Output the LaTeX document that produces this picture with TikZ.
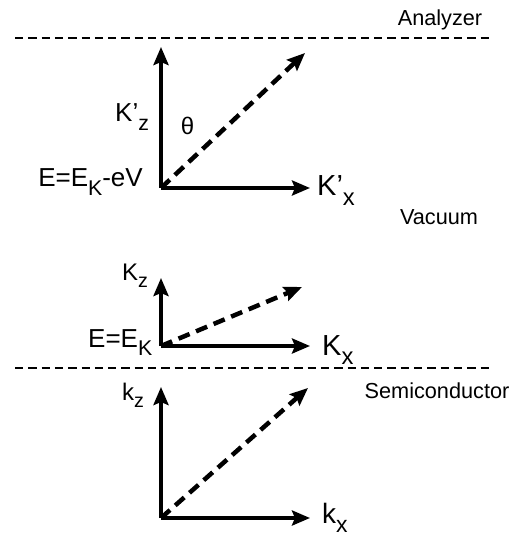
\documentclass[tikz,border=0pt]{standalone}
\usepackage{fontspec}
\setmainfont{Liberation Sans}
\usepackage{graphicx}
\usetikzlibrary{arrows.meta}
\usetikzlibrary{positioning}
\newcommand{\lsub}[1]{\raisebox{-0.33em}{\scalebox{0.82}{#1}}}
\tikzset{
	axis/.style={line width=4.5pt, draw=black, -{Stealth[length=18pt, width=15pt, inset=3pt]}},
	kvec/.style={line width=4.5pt, draw=black, dash pattern=on 12pt off 7pt, -{Stealth[length=18pt, width=15pt, inset=3pt]}},
	sep/.style={line width=1.3pt, draw=black, dash pattern=on 8.3pt off 5pt},
	zlab/.style={font=\fontsize{24}{28}\selectfont, inner sep=0pt, anchor=base west},
	xlab/.style={font=\fontsize{29}{33}\selectfont, inner sep=0pt, anchor=base west},
	elabel/.style={font=\fontsize{26}{30}\selectfont, inner sep=0pt},
	region/.style={font=\fontsize{21.7}{25}\selectfont, inner sep=0pt, anchor=base}
}
\begin{document}
\begin{tikzpicture}[x=1pt, y=-1pt]
	\useasboundingbox (0,0) rectangle (519,537);
	% boundaries
	\coordinate (an-l) at (15,38);
	\coordinate (an-r) at (490,38);
	\coordinate (sc-l) at (15,368);
	\coordinate (sc-r) at (490,368);
	\draw[sep] (an-l) -- (an-r);
	\draw[sep] (sc-l) -- (sc-r);
	\node[region] (analyzer) at (440,26) {Analyzer};
	\node[region] (vacuum) at (439,224) {Vacuum};
	\node[region] (semi) at (437,398) {Semiconductor};
	% analyzer frame
	\coordinate (o1) at (161,188);
	\coordinate (z1) at (161,47);
	\coordinate (x1) at (310,188);
	\coordinate (d1) at (305,53);
	\draw[axis] (o1) -- (z1);
	\draw[axis] (o1) -- (x1);
	\draw[kvec] (o1) -- (d1);
	\node[zlab, font=\fontsize{26}{30}\selectfont] (Kz1) at (115,122) {K’\lsub{z}};
	\node[elabel, font=\fontsize{24}{28}\selectfont] (theta) at (187.5,126) {θ};
	\node[elabel, anchor=base east] (E1) at (143,187) {E=E\lsub{K}-eV};
	\node[xlab] (Kx1) at (317,196) {K’\lsub{x}};
	% vacuum frame
	\coordinate (o2) at (161,346);
	\coordinate (z2) at (161,278);
	\coordinate (x2) at (310,346);
	\coordinate (d2) at (302,287);
	\draw[axis] (o2) -- (z2);
	\draw[axis] (o2) -- (x2);
	\draw[kvec] (o2) -- (d2);
	\node[zlab] (Kz2) at (122,280) {K\lsub{z}};
	\node[elabel, anchor=base west] (E2) at (88,347) {E=E\lsub{K}};
	\node[xlab] (Kx2) at (322,355) {K\lsub{x}};
	% semiconductor frame
	\coordinate (o3) at (161,518);
	\coordinate (z3) at (161,387);
	\coordinate (x3) at (310,518);
	\coordinate (d3) at (308,388);
	\draw[axis] (o3) -- (z3);
	\draw[axis] (o3) -- (x3);
	\draw[kvec] (o3) -- (d3);
	\node[zlab] (kz3) at (122,400) {k\lsub{z}};
	\node[xlab, font=\fontsize{28}{32}\selectfont] (kx3) at (322,523) {k\lsub{x}};
\end{tikzpicture}
\end{document}
